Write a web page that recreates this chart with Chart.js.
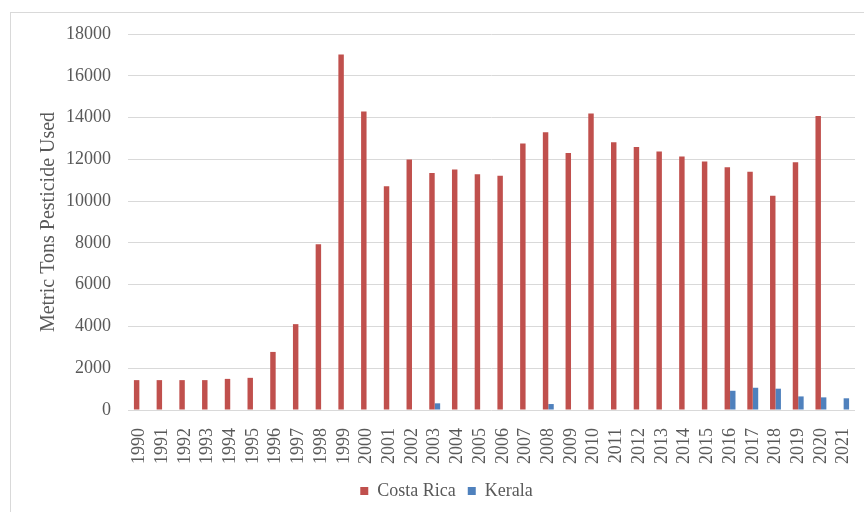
<!DOCTYPE html>
<html lang="en">
<head>
    <meta charset="UTF-8">
    <title>Metric Tons Pesticide Used</title>
    <style>
        body { margin: 0; background: #fff; overflow: hidden; }
        /* frame of the original chart, cut off on the right and bottom */
        #frame {
            position: absolute; left: 10px; top: 12px;
            width: 900px; height: 600px;
            border: 1px solid #d9d9d9;
        }
        #myChart { position: absolute; left: 0; top: 0; }
    </style>
    <script src="https://cdn.jsdelivr.net/npm/chart.js"></script>
</head>
<body>
    <div id="frame"></div>
    <canvas id="myChart" width="864" height="512"></canvas>
    <script>
        const years = ['1990', '1991', '1992', '1993', '1994', '1995', '1996', '1997', '1998', '1999',
            '2000', '2001', '2002', '2003', '2004', '2005', '2006', '2007', '2008', '2009',
            '2010', '2011', '2012', '2013', '2014', '2015', '2016', '2017', '2018', '2019',
            '2020', '2021'];
        const costaRica = [1430, 1430, 1430, 1430, 1490, 1540, 2780, 4110, 7930, 17020,
            14290, 10710, 11990, 11340, 11510, 11290, 11210, 12760, 13300, 12300,
            14200, 12820, 12590, 12370, 12130, 11900, 11620, 11400, 10260, 11860,
            14070, null];
        const kerala = [null, null, null, null, null, null, null, null, null, null,
            null, null, null, 320, null, null, null, null, 285, null,
            null, null, null, null, null, null, 920, 1065, 1020, 650,
            605, 560];
        const yTicks = [0, 2000, 4000, 6000, 8000, 10000, 12000, 14000, 16000, 18000];

        const textColor = '#595959';
        const font = { family: "'Liberation Serif', serif", size: 18 };

        // the legend in the original sits a bit right of the canvas centre
        const shiftLegend = {
            id: 'shiftLegend',
            afterLayout(chart) {
                chart.legend.left += 19;
                chart.legend.right += 19;
                chart.legend.top -= 2;
                chart.legend.bottom -= 2;
            }
        };

        new Chart(document.getElementById('myChart'), {
            type: 'bar',
            data: {
                labels: years,
                datasets: [
                    { label: 'Costa Rica', data: costaRica, backgroundColor: '#C0504D' },
                    { label: 'Kerala', data: kerala, backgroundColor: '#4F81BD' }
                ]
            },
            options: {
                responsive: false,
                animation: false,
                categoryPercentage: 0.48,
                barPercentage: 1,
                layout: { padding: { left: 0, right: 9, top: 34, bottom: 0 } },
                scales: {
                    y: {
                        min: 0,
                        max: 18000,
                        afterFit: s => { s.width = 128; },
                        afterBuildTicks: s => { s.ticks = yTicks.map(v => ({ value: v })); },
                        border: { display: false },
                        grid: { color: '#d9d9d9', drawTicks: false },
                        ticks: {
                            color: textColor, font: font, padding: 17,
                            callback: v => String(v)
                        },
                        title: {
                            display: true,
                            text: 'Metric Tons Pesticide Used',
                            color: textColor,
                            font: { family: font.family, size: 20 },
                            padding: { top: 37, bottom: 0 }
                        }
                    },
                    x: {
                        afterFit: s => {
                            s.height = 62;
                            s.paddingLeft = 0;
                            s.paddingRight = 0;
                        },
                        border: { display: false },
                        grid: { display: false },
                        ticks: {
                            color: textColor, font: font,
                            autoSkip: false, maxRotation: 90, minRotation: 90,
                            padding: 10
                        }
                    }
                },
                plugins: {
                    legend: {
                        position: 'bottom',
                        labels: {
                            color: textColor, font: font,
                            boxWidth: 8, boxHeight: 8, padding: 12
                        }
                    },
                    tooltip: { enabled: false }
                }
            },
            plugins: [shiftLegend]
        });
    </script>
</body>
</html>
